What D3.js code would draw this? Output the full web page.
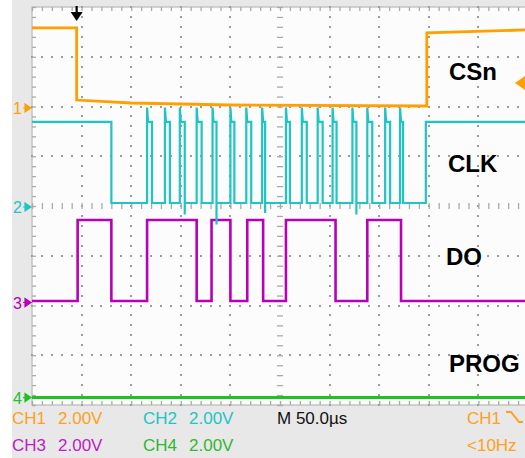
<!DOCTYPE html>
<html><head><meta charset="utf-8">
<script src="https://cdn.jsdelivr.net/npm/d3@7"></script>
<style>body{margin:0;background:#fff;} svg{display:block;}</style>
</head><body>
<svg id="c" width="525" height="458"></svg>
<script>
// ---------------- DATA ----------------
const channels = ["CH1", "CH2", "CH3", "CH4"];
const channelNumbers = ["1", "2", "3", "4"];
const signalNames = ["CSn", "CLK", "DO", "PROG"];
const voltsPerDiv = ["2.00V", "2.00V", "2.00V", "2.00V"];
const timebaseLabel = "M 50.0\u00b5s";
const triggerSource = "CH1";
const triggerFreq = "<10Hz";

// time axis (µs), 50 µs/div, 10 divisions
const timeTicks = [-250, -200, -150, -100, -50, 0, 50, 100, 150, 200, 250];

// CH1 CSn : [time µs, volts]
const csnPoints = [[-250, 3.22], [-205, 3.22], [-205, 0.32], [-150, 0.2], [-50, 0.12], [148, 0.08], [148, 3.02], [250, 3.14]];

// CH2 CLK
const clkHigh = 3.42, clkLow = 0.16, clkSpike = 4.0;
const clkStart = -170, clkEnd = 147;
const clkRise = [-134, -116, -101, -84, -68, -50, -34, -18, 6, 22, 38, 53, 73, 88, 106, 121];
const clkFall = [-129, -111, -96, -79, -64, -46, -29, -15, 10, 27, 43, 57, 77, 93, 111, 124];
const clkUndershoot = [[-96, -0.3], [-64, -0.7], [-15, -0.24], [77, -0.3]];

// CH3 DO : edges, starting low
const doHigh = 3.32, doLow = 0.06;
const doEdges = [-204, -170, -134, -84, -69, -50, -33, -17, 6, 56, 88, 122];

// CH4 PROG
const progPoints = [[-250, 0], [250, 0]];

// ---------------- LAYOUT ----------------
const svg = d3.select("#c");
const L = 32, R = 528, T = 7, B = 405;
const x = d3.scaleLinear().domain([-250, 250]).range([L, R]);
const yDiv = d3.scaleLinear().domain([-4, 4]).range([B, T]);
const chOffset = [1.97, -0.02, -1.94, -3.85]; // ground positions in divisions
const chColor = ["#ffa000", "#1fc4c4", "#b800b8", "#22c022"];
const yV = (ch) => (v) => yDiv(chOffset[ch] + v / 2);

svg.append("rect").attr("width", 525).attr("height", 458).attr("fill", "#ffffff");
svg.append("rect").attr("x", 12).attr("y", 0).attr("width", 513).attr("height", 458).attr("fill", "#e8e8e8");
svg.append("rect").attr("x", L).attr("y", T).attr("width", R - L).attr("height", B - T)
  .attr("fill", "#fcfcfc").attr("stroke", "#c4c4c4").attr("stroke-width", 1.5);

// grid dots
const g = svg.append("g").attr("fill", "#9c9c9c");
const fineT = d3.range(-250, 250.1, 10);
const fineDiv = d3.range(-4, 4.01, 0.2);
const dot = (cx, cy) => g.append("rect").attr("x", Math.round(cx) - 1).attr("y", Math.round(cy) - 1).attr("width", 2).attr("height", 2);
[-3, -2, -1, 1, 2, 3].forEach(dv => fineT.forEach(t => dot(x(t), yDiv(dv))));
timeTicks.filter(t => t !== 0 && t > -250 && t < 250).forEach(t => fineDiv.forEach(dv => dot(x(t), yDiv(dv))));

// border and center ticks via axes
const tickStyle = sel => { sel.select(".domain").remove(); sel.selectAll("text").remove(); sel.selectAll("line").attr("stroke", "#aaaaaa").attr("stroke-width", 1.3); };
svg.append("g").attr("transform", `translate(0,${T})`)
  .call(d3.axisBottom(x).tickValues(fineT).tickSize(4)).call(tickStyle);
svg.append("g").attr("transform", `translate(0,${B})`)
  .call(d3.axisTop(x).tickValues(fineT).tickSize(4)).call(tickStyle);
svg.append("g").attr("transform", `translate(${L},0)`)
  .call(d3.axisRight(yDiv).tickValues(fineDiv).tickSize(4)).call(tickStyle);
svg.append("g").attr("transform", `translate(0,${yDiv(0) - 3})`)
  .call(d3.axisBottom(x).tickValues(fineT).tickSize(6)).call(tickStyle);
svg.append("g").attr("transform", `translate(${x(0) - 3},0)`)
  .call(d3.axisRight(yDiv).tickValues(fineDiv).tickSize(6)).call(tickStyle);

// ---------------- TRACES ----------------
svg.append("clipPath").attr("id", "clip").append("rect").attr("x", L).attr("y", T).attr("width", R - L).attr("height", B - T);
const traces = svg.append("g").attr("clip-path", "url(#clip)");
const drawTrace = (ch, pts, w) => {
  const yy = yV(ch);
  traces.append("path").datum(pts)
    .attr("d", d3.line().x(d => x(d[0])).y(d => yy(d[1])))
    .attr("fill", "none").attr("stroke", chColor[ch]).attr("stroke-width", w || 2.6)
    .attr("stroke-linejoin", "miter");
};

// CH2 points
const clkPts = [[-250, clkHigh], [clkStart, clkHigh], [clkStart, clkLow]];
clkRise.forEach((r, i) => {
  const f = clkFall[i];
  clkPts.push([r, clkLow], [r, clkSpike], [r + 1, clkHigh], [f, clkHigh], [f, clkLow]);
  const u = clkUndershoot.find(d => d[0] === f);
  if (u) clkPts.push([f, u[1]], [f, clkLow]);
});
clkPts.push([clkEnd, clkLow], [clkEnd, clkHigh], [250, clkHigh]);

// CH3 points
const doPts = [[-250, doLow]];
let lvl = doLow;
doEdges.forEach(e => { doPts.push([e, lvl]); lvl = (lvl === doLow ? doHigh : doLow); doPts.push([e, lvl]); });
doPts.push([250, lvl]);

drawTrace(3, progPoints, 3);
drawTrace(2, doPts);
drawTrace(1, clkPts, 2.2);
drawTrace(0, csnPoints, 2.8);

// ---------------- MARKERS ----------------
channelNumbers.forEach((n, i) => {
  const yy = yV(i)(0);
  svg.append("text").attr("x", 13).attr("y", yy + 6).text(n)
    .attr("font-family", "Liberation Sans, Arial, sans-serif").attr("font-size", 16).attr("fill", chColor[i]);
  svg.append("path").attr("d", `M${23},${yy}L${26},${yy}M${25},${yy - 4}L${31},${yy}L${25},${yy + 4}Z`)
    .attr("fill", chColor[i]).attr("stroke", chColor[i]).attr("stroke-width", 1.2);
});

// trigger position arrow (at CSn falling edge time)
const tx = x(csnPoints[1][0]);
svg.append("line").attr("x1", tx).attr("x2", tx).attr("y1", 6).attr("y2", 18).attr("stroke", "#000").attr("stroke-width", 2.2);
svg.append("path").attr("d", `M${tx - 6},${12}L${tx + 6},${12}L${tx},${21}Z`).attr("fill", "#000");

// trigger level arrow on the right
const ty = yV(0)(1.0);
svg.append("path").attr("d", `M${515},${ty}L${525},${ty - 7}L${525},${ty + 7}Z`).attr("fill", chColor[0]);

// signal names
const nameY = [80, 172, 265, 372];
const nameX = [449, 448, 446, 449];
signalNames.forEach((s, i) => {
  svg.append("text").attr("x", nameX[i]).attr("y", nameY[i]).text(s)
    .attr("font-family", "Liberation Sans, Arial, sans-serif").attr("font-weight", "bold")
    .attr("font-size", 24).attr("fill", "#000");
});

// ---------------- STATUS TEXT ----------------
const st = (txt, xx, yy, col) => svg.append("text").attr("x", xx).attr("y", yy).text(txt)
  .attr("font-family", "Liberation Sans, Arial, sans-serif").attr("font-size", 17).attr("fill", col);
const colX = [12, 143, 12, 143];
const rowY = [424, 424, 451, 451];
const textCol = ["#ffa020", "#22c4c4", "#c020c0", "#30b830"];
channels.forEach((c, i) => {
  st(c, colX[i], rowY[i], textCol[i]);
  st(voltsPerDiv[i], colX[i] + 46, rowY[i], textCol[i]);
});
st(timebaseLabel, 277, 424, "#111");
st(triggerSource, 467, 424, textCol[0]);
svg.append("path").attr("d", "M506,412L511,412L519,422L523,422").attr("fill", "none")
  .attr("stroke", textCol[0]).attr("stroke-width", 2);
st(triggerFreq, 467, 451, textCol[0]);
</script>
</body></html>
